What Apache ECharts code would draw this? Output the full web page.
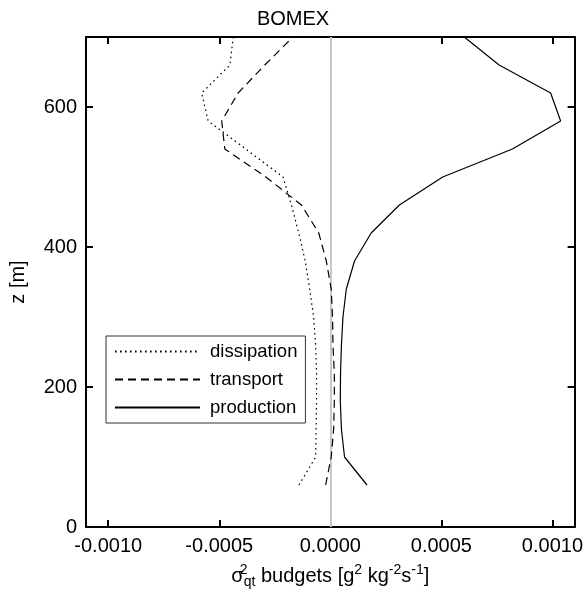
<!DOCTYPE html>
<html>
<head>
<meta charset="utf-8">
<script src="https://cdn.jsdelivr.net/npm/echarts@6/dist/echarts.min.js"></script>
<style>
html,body{margin:0;padding:0;background:#fff;}
#chart{width:586px;height:599px;}
</style>
</head>
<body>
<div id="chart"></div>
<script>
// Heights (m)
const heights = [60, 100, 140, 180, 220, 260, 300, 340, 380, 420, 460, 500, 540, 580, 620, 660, 700];
// Budgets (g^2 kg^-2 s^-1)
const dissipation = [-0.000141, -0.000066, -0.000064, -0.000062, -0.000062, -0.000066, -0.000075, -0.000093, -0.000113, -0.000142, -0.000175, -0.000213, -0.000381, -0.000550, -0.000579, -0.000452, -0.000437];
const transport = [-0.000021, 0.000004, 0.000015, 0.000018, 0.000018, 0.000012, 0.000010, 0.000004, -0.000018, -0.000052, -0.000130, -0.000290, -0.000475, -0.000489, -0.000415, -0.000295, -0.000168];
const production = [0.000165, 0.000064, 0.000050, 0.000045, 0.000046, 0.000050, 0.000057, 0.000072, 0.000109, 0.000184, 0.000311, 0.000506, 0.000820, 0.001037, 0.000992, 0.000760, 0.000603];
const xTicks = [-0.001, -0.0005, 0, 0.0005, 0.001];
const yTicks = [0, 200, 400, 600];
const seriesNames = ['dissipation', 'transport', 'production'];

const FONT = '"Liberation Sans", Arial, Helvetica, sans-serif';
const pair = arr => arr.map((v, i) => [v, heights[i]]);

const chart = echarts.init(document.getElementById('chart'), null, {renderer: 'canvas'});

const axisLineStyle = {color: '#000', width: 2};
const xBase = {
  type: 'value', min: -0.0011, max: 0.0011,
  splitLine: {show: false},
  axisLine: {show: true, onZero: false, lineStyle: axisLineStyle},
  axisTick: {show: true, inside: true, length: 7, lineStyle: {color: '#000', width: 2}, customValues: xTicks}
};
const yBase = {
  type: 'value', min: 0, max: 700,
  splitLine: {show: false},
  axisLine: {show: true, onZero: false, lineStyle: axisLineStyle},
  axisTick: {show: true, inside: true, length: 7, lineStyle: {color: '#000', width: 2}, customValues: yTicks}
};

chart.setOption({
  animation: false,
  backgroundColor: '#fff',
  title: {
    text: 'BOMEX', left: 'center', top: 4,
    textStyle: {fontFamily: FONT, fontSize: 20, fontWeight: 'normal', color: '#000'}
  },
  grid: {left: 86, right: 11, top: 37, bottom: 72},
  legend: {
    orient: 'vertical', left: 106, top: 336,
    itemWidth: 85, itemHeight: 14, itemGap: 9,
    padding: [6, 8, 6, 8],
    borderColor: '#333', borderWidth: 1, backgroundColor: '#fff',
    itemStyle: {opacity: 0},
    textStyle: {fontFamily: FONT, fontSize: 18.5, color: '#000', padding: [0, 0, 0, 5]},
    data: seriesNames
  },
  xAxis: [
    Object.assign({}, xBase, {
      position: 'bottom',
      axisLabel: {show: true, customValues: xTicks, margin: 9, fontFamily: FONT, fontSize: 20, color: '#000',
        formatter: v => v.toFixed(4)},
      name: '{t|σ}{sup0|2}{sub|qt}{t| budgets [g}{sup|2}{t| kg}{sup|-2}{t|s}{sup|-1}{t|]}',
      nameLocation: 'middle', nameGap: 36,
      nameTextStyle: {
        fontFamily: FONT, fontSize: 20, color: '#000',
        rich: {
          t: {fontFamily: FONT, fontSize: 20, color: '#000', lineHeight: 26, verticalAlign: 'middle'},
          sup0: {fontFamily: FONT, fontSize: 14, color: '#000', lineHeight: 14, verticalAlign: 'top', width: 0},
          sup: {fontFamily: FONT, fontSize: 14, color: '#000', lineHeight: 14, verticalAlign: 'top'},
          sub: {fontFamily: FONT, fontSize: 14, color: '#000', lineHeight: 14, verticalAlign: 'bottom'}
        }
      }
    }),
    Object.assign({}, xBase, {position: 'top', axisLabel: {show: false}})
  ],
  yAxis: [
    Object.assign({}, yBase, {
      position: 'left',
      axisLabel: {show: true, customValues: yTicks, margin: 9, fontFamily: FONT, fontSize: 20, color: '#000'},
      name: 'z [m]', nameLocation: 'middle', nameGap: 58, nameRotate: 90,
      nameTextStyle: {fontFamily: FONT, fontSize: 20, color: '#000'}
    }),
    Object.assign({}, yBase, {position: 'right', axisLabel: {show: false}})
  ],
  series: [
    {
      name: 'dissipation', type: 'line', data: pair(dissipation),
      symbol: 'none', z: 3,
      lineStyle: {color: '#000', width: 1.2, type: [1.6, 3.4]},
      itemStyle: {color: '#000'},
      markLine: {
        silent: true, symbol: ['none', 'none'], label: {show: false},
        lineStyle: {color: '#c8c8c8', width: 2, type: 'solid'},
        data: [{xAxis: 0}], z: 1
      }
    },
    {
      name: 'transport', type: 'line', data: pair(transport),
      symbol: 'none', z: 3,
      lineStyle: {color: '#000', width: 1.2, type: [8, 5]},
      itemStyle: {color: '#000'}
    },
    {
      name: 'production', type: 'line', data: pair(production),
      symbol: 'none', z: 3,
      lineStyle: {color: '#000', width: 1.2, type: 'solid'},
      itemStyle: {color: '#000'}
    }
  ]
});
</script>
</body>
</html>
